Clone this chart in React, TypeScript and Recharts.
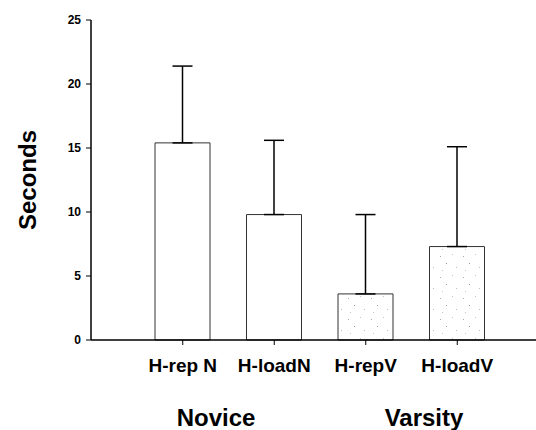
import { BarChart, Bar, XAxis, YAxis, ErrorBar, Cell } from 'recharts'

const categories = ['H-rep N', 'H-loadN', 'H-repV', 'H-loadV']
const means = [15.4, 9.8, 3.6, 7.3]
const sdUp = [6.0, 5.8, 6.2, 7.8]
const stippled = [false, false, true, true]
const yTicks = [0, 5, 10, 15, 20, 25]
const groups = [
  { label: 'Novice', x: 216 },
  { label: 'Varsity', x: 424 },
]

const FONT = '"Liberation Sans", Arial, sans-serif'

const data = categories.map((name, i) => ({ name, value: means[i], err: [0, sdUp[i]] }))

export default function App() {
  return (
    <div style={{ position: 'absolute', left: 0, top: 0, width: 536, height: 430, background: '#fff', fontFamily: FONT }}>
      <BarChart width={536} height={430} data={data} margin={{ top: 20, right: 0, left: 0, bottom: 50 }}>
        <defs>
          <pattern id="stipple" width="23" height="21" patternUnits="userSpaceOnUse">
            <rect width="23" height="21" fill="#fff" />
            <rect x="3" y="4" width="1" height="1" fill="#aaa" />
            <rect x="15" y="2" width="1" height="1" fill="#c4c4c4" />
            <rect x="9" y="11" width="1" height="1" fill="#999" />
            <rect x="19" y="15" width="1" height="1" fill="#bbb" />
            <rect x="5" y="18" width="1" height="1" fill="#c8c8c8" />
          </pattern>
        </defs>
        <XAxis
          dataKey="name"
          padding={{ left: 46, right: 33 }}
          axisLine={{ stroke: '#000', strokeWidth: 1.5 }}
          tickLine={{ stroke: '#000' }}
          tickSize={5}
          tickMargin={14}
          height={40}
          interval={0}
          tick={{ fontSize: 19, fontWeight: 'bold', fill: '#000', fontFamily: FONT }}
        />
        <YAxis
          type="number"
          domain={[0, 25]}
          ticks={yTicks}
          width={91}
          axisLine={{ stroke: '#000', strokeWidth: 1.5 }}
          tickLine={{ stroke: '#000' }}
          tickSize={5}
          tickMargin={5}
          tick={{ fontSize: 12, fontWeight: 'bold', fill: '#000', fontFamily: FONT }}
          label={{
            value: 'Seconds',
            angle: -90,
            position: 'insideLeft',
            offset: 27,
            style: { textAnchor: 'middle', fontSize: 24, fontWeight: 'bold', fill: '#000', fontFamily: FONT },
          }}
        />
        <Bar dataKey="value" barSize={55} stroke="#333" strokeWidth={1} isAnimationActive={false}>
          {data.map((d, i) => (
            <Cell key={d.name} fill={stippled[i] ? 'url(#stipple)' : '#fff'} />
          ))}
          <ErrorBar dataKey="err" direction="y" width={10} stroke="#000" strokeWidth={1.5} isAnimationActive={false} />
        </Bar>
      </BarChart>
      {groups.map((g) => (
        <div
          key={g.label}
          style={{
            position: 'absolute',
            left: g.x - 60,
            width: 120,
            top: 404,
            textAlign: 'center',
            fontSize: 24,
            fontWeight: 'bold',
            lineHeight: '28px',
            color: '#000',
          }}
        >
          {g.label}
        </div>
      ))}
    </div>
  )
}
